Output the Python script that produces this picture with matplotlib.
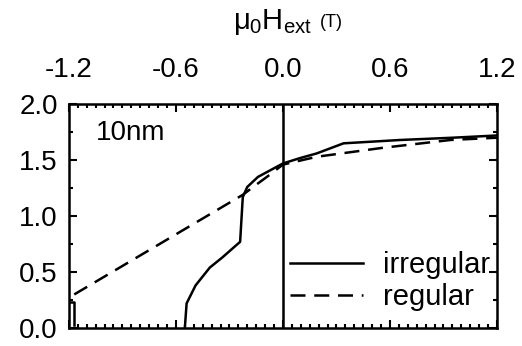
import matplotlib
matplotlib.use('Agg')
import matplotlib.pyplot as plt
from matplotlib.ticker import MultipleLocator

plt.rcParams['font.family'] = ['Liberation Sans', 'DejaVu Sans']
plt.rcParams['mathtext.fontset'] = 'custom'
plt.rcParams['mathtext.rm'] = 'Liberation Sans'
plt.rcParams['mathtext.it'] = 'Liberation Sans'

# irregular particles: main branch of the curve
irr_x = [-0.55, -0.54, -0.49, -0.41, -0.34, -0.24, -0.225, -0.20, -0.14, -0.07, 0.0,
         0.10, 0.19, 0.34, 0.66, 0.95, 1.2]
irr_y = [0.0, 0.22, 0.38, 0.54, 0.63, 0.77, 1.17, 1.26, 1.35, 1.41, 1.47,
         1.52, 1.56, 1.65, 1.68, 1.70, 1.72]
# irregular: small piece near -1.2
irr_tail_x = [-1.2, -1.17, -1.17]
irr_tail_y = [0.23, 0.23, 0.03]

# regular particles
reg_x = [-1.17, -0.225, -0.15, -0.09, 0.0, 0.19, 0.56, 0.94, 1.2]
reg_y = [0.30, 1.19, 1.28, 1.35, 1.46, 1.53, 1.61, 1.68, 1.70]

xticks = [-1.2, -0.6, 0.0, 0.6, 1.2]
yticks = [0.0, 0.5, 1.0, 1.5, 2.0]

fig = plt.figure(figsize=(5.22, 3.46), dpi=100)
ax = fig.add_axes([0.132, 0.052, 0.820, 0.647])

ax.plot(irr_x, irr_y, 'k-', lw=1.8, label='irregular')
ax.plot(irr_tail_x, irr_tail_y, 'k-', lw=1.8)
ax.plot(reg_x, reg_y, 'k', ls=(0, (6, 3.5)), lw=1.8, label='regular')
ax.axvline(0.0, color='k', lw=1.8)

ax.set_xlim(-1.2, 1.2)
ax.set_ylim(0.0, 2.0)
ax.set_xticks(xticks)
ax.set_xticklabels(['%.1f' % v for v in xticks])
ax.set_yticks(yticks)
ax.set_yticklabels(['%.1f' % v for v in yticks])
ax.xaxis.set_minor_locator(MultipleLocator(0.05))
ax.yaxis.set_minor_locator(MultipleLocator(0.25))
ax.xaxis.tick_top()
ax.tick_params(which='both', direction='in', top=True, bottom=True, left=True, right=True,
               labeltop=True, labelbottom=False, width=1.5, labelsize=20)
ax.tick_params(axis='x', which='major', pad=15)
ax.tick_params(axis='y', which='major', pad=8)
ax.tick_params(which='major', length=6)
ax.tick_params(which='minor', length=3)
for s in ax.spines.values():
    s.set_linewidth(1.8)

ax.text(0.062, 0.84, '10nm', transform=ax.transAxes, fontsize=20)

ax.legend(loc='lower right', frameon=False, fontsize=21, handlelength=2.5,
          handletextpad=0.7, labelspacing=0.15, borderaxespad=0.2,
          borderpad=0.1, bbox_to_anchor=(1.005, 0.035))

fig.text(0.446, 0.935, r'$\mu_0$H$_{ext}$', fontsize=21, va='center')
fig.text(0.612, 0.935, '(T)', fontsize=13, va='center')

fig.savefig('out.png', dpi=100)
